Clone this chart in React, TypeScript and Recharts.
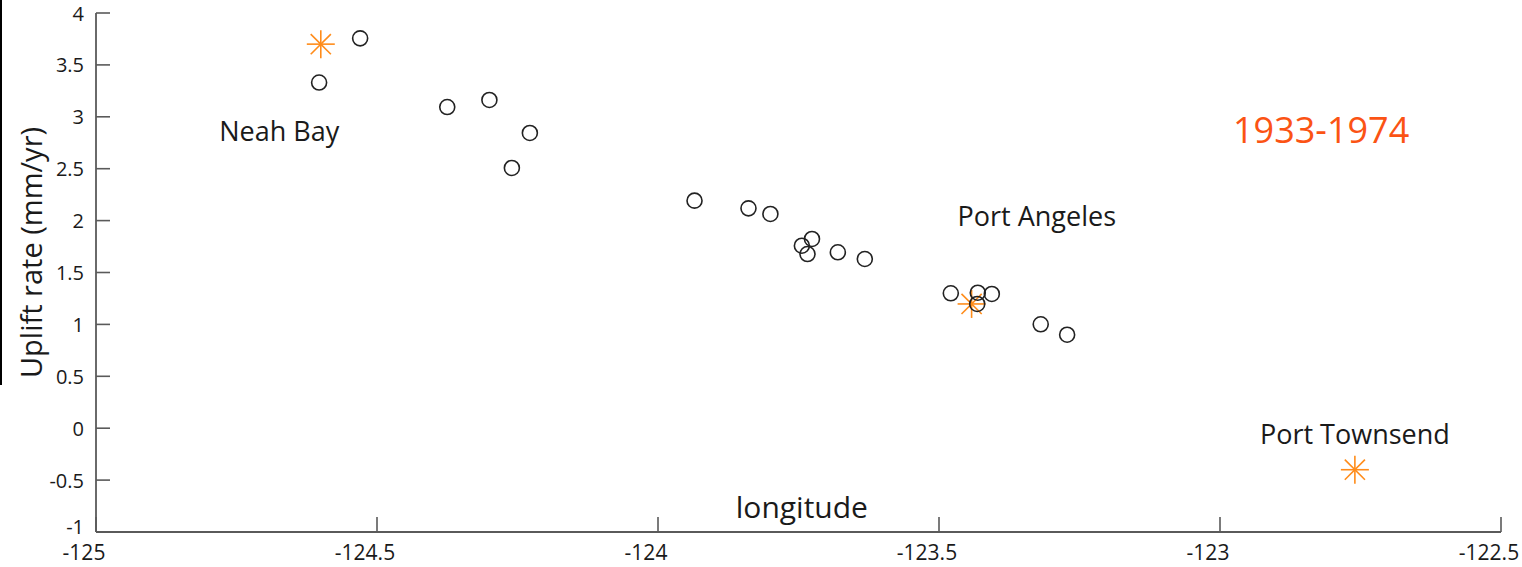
import { ScatterChart, Scatter, XAxis, YAxis, ReferenceDot } from "recharts"

// leveling sites (circles)
const siteLon = [
  -124.603, -124.53, -124.375, -124.3, -124.228, -124.26, -123.935, -123.839,
  -123.8, -123.744, -123.726, -123.734, -123.68, -123.632, -123.479, -123.431,
  -123.406, -123.432, -123.319, -123.272
]
const siteRate = [
  3.33, 3.756, 3.094, 3.162, 2.844, 2.507, 2.192, 2.118,
  2.064, 1.758, 1.823, 1.678, 1.695, 1.63, 1.3, 1.305,
  1.293, 1.197, 1.001, 0.901
]

// tide gauges (orange stars)
const gaugeLon = [-124.6, -123.442, -122.76]
const gaugeRate = [3.7, 1.197, -0.4]

const xTicks = [-125, -124.5, -124, -123.5, -123, -122.5]
const yTicks = [-1, -0.5, 0, 0.5, 1, 1.5, 2, 2.5, 3, 3.5, 4]

const placeNames = ["Neah Bay", "Port Angeles", "Port Townsend"]
const placeLon = [-124.674, -123.326, -122.76]
const placeRate = [2.86, 2.04, -0.06]

const sites = siteLon.map((lon, i) => ({ lon, rate: siteRate[i] }))
const gauges = gaugeLon.map((lon, i) => ({ lon, rate: gaugeRate[i] }))

const FONT = "'Open Sans', 'Noto Sans', sans-serif"
const AXIS = "#5a5a5a"
const TEXT = "#1a1a1a"

const Circle = (props: any) => (
  <circle cx={props.cx} cy={props.cy} r={7.5} fill="none" stroke="#222" strokeWidth={1.6} />
)

const Star = (props: any) => {
  const { cx, cy } = props
  const r = 14
  const d = r * 0.72
  return (
    <g stroke="#ff8c1a" strokeWidth={1.6}>
      <line x1={cx - r} y1={cy} x2={cx + r} y2={cy} />
      <line x1={cx} y1={cy - r} x2={cx} y2={cy + r} />
      <line x1={cx - d} y1={cy - d} x2={cx + d} y2={cy + d} />
      <line x1={cx - d} y1={cy + d} x2={cx + d} y2={cy - d} />
    </g>
  )
}

const LeftTick = (props: any) => {
  const { x, y, payload } = props
  // bottom label sits a bit higher so it clears the x tick label below it
  const ty = payload.value === -1 ? y - 6 : y
  return (
    <g>
      <text x={x} y={ty} textAnchor="end" dominantBaseline="central" fontSize={20} fontFamily={FONT} fill={TEXT}>
        {payload.value}
      </text>
      <line x1={x + 12} x2={x + 26} y1={y} y2={y} stroke={AXIS} strokeWidth={1.6} />
    </g>
  )
}

const BottomTick = (props: any) => {
  const { x, y, payload } = props
  return (
    <g>
      <text x={x - 12} y={y + 12} textAnchor="middle" dominantBaseline="central" fontSize={21} fontFamily={FONT} fill={TEXT}>
        {payload.value}
      </text>
      <line x1={x} x2={x} y1={y - 8} y2={y - 23} stroke={AXIS} strokeWidth={1.6} />
    </g>
  )
}

const TopTick = (props: any) => {
  const { x, y } = props
  return <line x1={x} x2={x} y1={y} y2={y + 14} stroke={AXIS} strokeWidth={1.6} />
}

const RightTick = (props: any) => {
  const { x, y } = props
  return <line x1={x} x2={x - 14} y1={y} y2={y} stroke={AXIS} strokeWidth={1.6} />
}

const YTitle = (props: any) => {
  const { viewBox } = props
  const cx = 30
  const cy = viewBox.y + viewBox.height / 2 - 20
  return (
    <text x={cx} y={cy} transform={`rotate(-90 ${cx} ${cy})`} textAnchor="middle" dominantBaseline="central"
      fontSize={29} fontFamily={FONT} fill={TEXT}>
      Uplift rate (mm/yr)
    </text>
  )
}

export default function App() {
  return (
    <div style={{ position: "absolute", left: 0, top: 0, width: 1522, height: 567, background: "#fff" }}>
      <div style={{ position: "absolute", left: 0, top: 0, width: 2, height: 385, background: "#000" }} />
      <ScatterChart width={1522} height={567} margin={{ top: 13, right: 21, bottom: 0, left: 0 }}>
        <XAxis
          xAxisId="b"
          type="number"
          dataKey="lon"
          domain={[-125, -122.5]}
          allowDataOverflow
          ticks={xTicks}
          height={35}
          tickSize={0}
          tickMargin={8}
          tickLine={false}
          tick={<BottomTick />}
          axisLine={{ stroke: AXIS, strokeWidth: 1.8 }}
        />
        <XAxis
          xAxisId="t"
          orientation="top"
          type="number"
          domain={[-125, -122.5]}
          allowDataOverflow
          ticks={xTicks}
          height={0}
          tickSize={0}
          tickMargin={0}
          tickLine={false}
          tick={<TopTick />}
          axisLine={{ stroke: AXIS, strokeWidth: 1.8 }}
        />
        <YAxis
          yAxisId="l"
          type="number"
          dataKey="rate"
          domain={[-1, 4]}
          allowDataOverflow
          ticks={yTicks}
          width={96}
          tickSize={0}
          tickMargin={12}
          tickLine={false}
          tick={<LeftTick />}
          axisLine={{ stroke: AXIS, strokeWidth: 1.8 }}
          label={<YTitle />}
        />
        <YAxis
          yAxisId="r"
          orientation="right"
          type="number"
          domain={[-1, 4]}
          allowDataOverflow
          ticks={yTicks}
          width={0}
          tickSize={0}
          tickMargin={0}
          tickLine={false}
          tick={<RightTick />}
          axisLine={{ stroke: AXIS, strokeWidth: 1.8 }}
        />

        <Scatter xAxisId="b" yAxisId="l" data={gauges} shape={<Star />} isAnimationActive={false} />
        <Scatter xAxisId="b" yAxisId="l" data={sites} shape={<Circle />} isAnimationActive={false} />

        {placeNames.map((name, i) => (
          <ReferenceDot
            key={name}
            xAxisId="b"
            yAxisId="l"
            x={placeLon[i]}
            y={placeRate[i]}
            r={1}
            fill="none"
            stroke="none"
            label={{ value: name, position: "center", fontSize: 27, fontFamily: FONT, fill: TEXT }}
          />
        ))}
        <ReferenceDot
          xAxisId="b"
          yAxisId="l"
          x={-122.82}
          y={2.87}
          r={1}
          fill="none"
          stroke="none"
          label={{ value: "1933-1974", position: "center", fontSize: 36, fontFamily: FONT, fill: "#fb5314" }}
        />
        <ReferenceDot
          xAxisId="b"
          yAxisId="l"
          x={-123.744}
          y={-0.76}
          r={1}
          fill="none"
          stroke="none"
          label={{ value: "longitude", position: "center", fontSize: 30, fontFamily: FONT, fill: TEXT }}
        />
      </ScatterChart>
    </div>
  )
}
